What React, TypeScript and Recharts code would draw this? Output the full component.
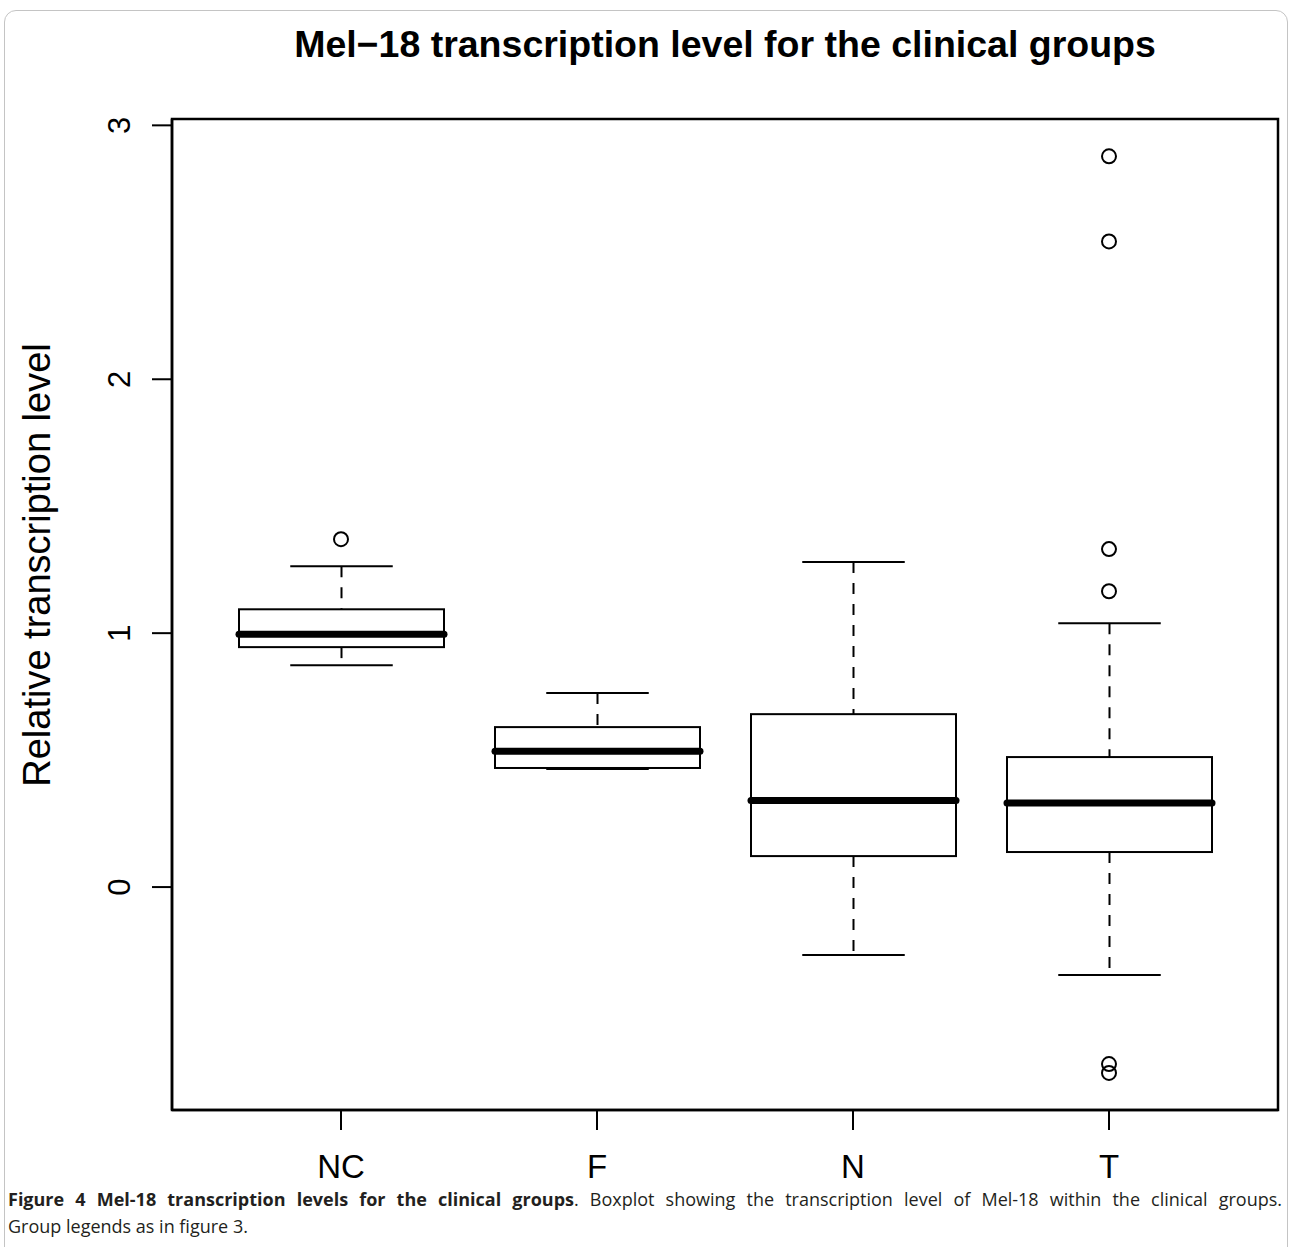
import React from "react";
import {
  ComposedChart,
  Bar,
  Line,
  XAxis,
  YAxis,
  ReferenceArea,
} from "recharts";

const groups = ["NC", "F", "N", "T"];
const lowerWhisker = [0.874, 0.465, -0.268, -0.346];
const lowerQuartile = [0.945, 0.469, 0.122, 0.138];
const medians = [0.996, 0.535, 0.341, 0.331];
const upperQuartile = [1.094, 0.63, 0.681, 0.512];
const upperWhisker = [1.264, 0.764, 1.28, 1.039];
const outliers = [[1.37], [], [], [2.878, 2.543, 1.331, 1.165, -0.697, -0.732]];
const yTicks = [0, 1, 2, 3];
const yDomain = [-0.878, 3.025];

const maxOut = Math.max(...outliers.map((o) => o.length));
const outKeys = Array.from({ length: maxOut }, (_, k) => "o" + k);

const rows = groups.map((group, i) => {
  const row: Record<string, any> = {
    group,
    lower: [lowerWhisker[i], lowerQuartile[i]],
    upper: [upperQuartile[i], upperWhisker[i]],
    box: [lowerQuartile[i], upperQuartile[i]],
    med: [lowerQuartile[i], medians[i]],
  };
  outKeys.forEach((k, j) => {
    row[k] = outliers[i][j] ?? null;
  });
  return row;
});

const font = "'Liberation Sans', Arial, sans-serif";

function WhiskerShape(props: any, capAtTop: boolean) {
  const { x, y, width, height } = props;
  const top = Math.min(y, y + height);
  const bottom = Math.max(y, y + height);
  const cx = x + width / 2;
  const capY = capAtTop ? top : bottom;
  return (
    <g>
      <line x1={cx} y1={top} x2={cx} y2={bottom} stroke="#000" strokeWidth={2} strokeDasharray="11 10" />
      <line x1={cx - width / 4} y1={capY} x2={cx + width / 4} y2={capY} stroke="#000" strokeWidth={2} />
    </g>
  );
}

const BoxShape = (props: any) => {
  const { x, y, width, height } = props;
  return (
    <rect
      x={x}
      y={Math.min(y, y + height)}
      width={width}
      height={Math.abs(height)}
      fill="#fff"
      stroke="#000"
      strokeWidth={2}
    />
  );
};

const MedianShape = (props: any) => {
  const { x, y, width } = props;
  return (
    <line x1={x} y1={y} x2={x + width} y2={y} stroke="#000" strokeWidth={7} strokeLinecap="round" />
  );
};

const outlierDot = (props: any) => {
  const { cx, cy, index, dataKey } = props;
  if (cy == null || Number.isNaN(cy)) return <g key={`${dataKey}-${index}`} />;
  return (
    <circle key={`${dataKey}-${index}`} cx={cx} cy={cy} r={7} fill="none" stroke="#000" strokeWidth={2} />
  );
};

const YTick = (props: any) => {
  const { x, y, payload } = props;
  return (
    <text
      x={x}
      y={y}
      transform={`rotate(-90 ${x} ${y})`}
      textAnchor="middle"
      fontSize={31}
      fontFamily={font}
      fill="#000"
    >
      {payload.value}
    </text>
  );
};

const XTick = (props: any) => {
  const { x, y, payload } = props;
  return (
    <text x={x} y={y} dy="0.71em" textAnchor="middle" fontSize={33} fontFamily={font} fill="#000">
      {payload.value}
    </text>
  );
};

export default function App() {
  return (
    <div style={{ position: "absolute", left: 0, top: 0, width: 1290, height: 1247, overflow: "hidden", background: "#fff" }}>
      <div
        style={{
          position: "absolute",
          left: 4,
          top: 10,
          width: 1282,
          height: 1300,
          border: "1px solid #c4c4c4",
          borderRadius: 12,
        }}
      />
      <ComposedChart
        width={1290}
        height={1247}
        data={rows}
        margin={{ top: 119, left: 72, right: 12, bottom: 67 }}
        barSize={205}
        barGap={-205}
      >
        <XAxis
          dataKey="group"
          height={70}
          padding={{ left: 41, right: 41 }}
          tickSize={20}
          tickMargin={25}
          tick={<XTick />}
          tickLine={{ stroke: "#000", strokeWidth: 2 }}
          axisLine={{ stroke: "#000", strokeWidth: 2.5 }}
          interval={0}
        />
        <XAxis xAxisId="frame" dataKey="group" hide />
        <YAxis
          type="number"
          width={100}
          domain={yDomain}
          ticks={yTicks}
          allowDataOverflow
          tickSize={20}
          tickMargin={22}
          tick={<YTick />}
          tickLine={{ stroke: "#000", strokeWidth: 2 }}
          axisLine={{ stroke: "#000", strokeWidth: 2.5 }}
        />
        <ReferenceArea
          xAxisId="frame"
          y1={yDomain[0]}
          y2={yDomain[1]}
          fill="none"
          fillOpacity={0}
          stroke="#000"
          strokeWidth={2.5}
          ifOverflow="extendDomain"
        />
        <Bar dataKey="lower" shape={(p: any) => WhiskerShape(p, false)} isAnimationActive={false} />
        <Bar dataKey="upper" shape={(p: any) => WhiskerShape(p, true)} isAnimationActive={false} />
        <Bar dataKey="box" shape={BoxShape} isAnimationActive={false} />
        <Bar dataKey="med" shape={MedianShape} isAnimationActive={false} />
        {outKeys.map((k) => (
          <Line
            key={k}
            dataKey={k}
            stroke="none"
            dot={outlierDot}
            activeDot={false}
            legendType="none"
            isAnimationActive={false}
          />
        ))}
      </ComposedChart>
      <div
        style={{
          position: "absolute",
          left: 0,
          width: 1450,
          top: 22,
          textAlign: "center",
          fontFamily: font,
          fontWeight: "bold",
          fontSize: 37.5,
          lineHeight: "44px",
        }}
      >
        Mel−18 transcription level for the clinical groups
      </div>
      <div
        style={{
          position: "absolute",
          left: 37,
          top: 565,
          transform: "translate(-50%, -50%) rotate(-90deg)",
          whiteSpace: "nowrap",
          fontFamily: font,
          fontSize: 38,
        }}
      >
        Relative transcription level
      </div>
      <div
        style={{
          position: "absolute",
          left: 8,
          top: 1186,
          width: 1274,
          fontFamily: "'Open Sans', sans-serif",
          fontSize: 18,
          lineHeight: "27px",
          color: "#231f20",
        }}
      >
        <div style={{ textAlign: "justify", textAlignLast: "justify", whiteSpace: "nowrap" }}>
          <b>Figure 4 Mel-18 transcription levels for the clinical groups</b>. Boxplot showing the transcription level of Mel-18 within the clinical groups.
        </div>
        <div>Group legends as in figure 3.</div>
      </div>
    </div>
  );
}
